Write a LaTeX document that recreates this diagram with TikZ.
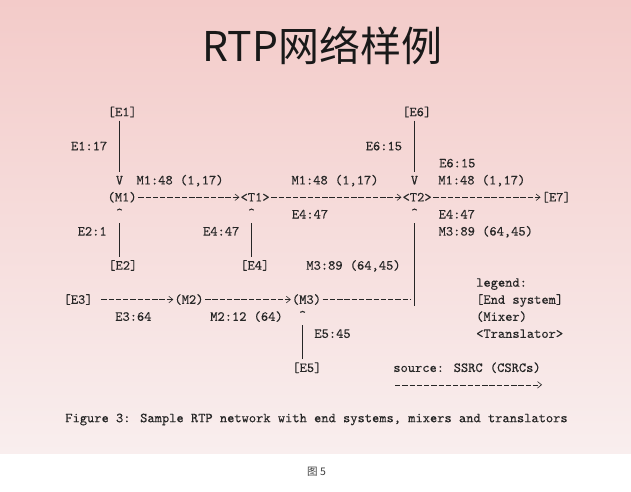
\documentclass[tikz,border=0pt]{standalone}
\usepackage{fontspec}
\newfontfamily\cjk{Noto Sans CJK SC}
\newfontfamily\asciimono{lmmono10-regular.otf}[FakeBold=0.2]
\usetikzlibrary{arrows.meta}
\definecolor{slidetop}{RGB}{243,203,201}
\definecolor{slidemid}{RGB}{246,217,216}
\definecolor{slidebot}{RGB}{249,238,238}
\definecolor{ink}{RGB}{38,38,38}
\begin{document}
\begin{tikzpicture}[x=1pt,y=-1pt,
  txt/.style={font=\asciimono\fontsize{13.8}{14}\selectfont, inner sep=0pt, text height=8.4pt, text depth=0pt, text=ink},
  pipe/.style={draw=ink, line width=0.65pt, shorten <=4.3pt, shorten >=4.3pt},
  flowplain/.style={draw=ink, line width=0.6pt, dash pattern=on 5.4pt off 1.86pt},
  flow/.style={flowplain, shorten <=1.5pt, shorten >=1pt, -{Straight Barb[length=4pt,width=6.5pt,line width=0.6pt]}},
]
\useasboundingbox (0,0) rectangle (631,491);
\fill[white] (0,0) rectangle (631,491);
\shade[top color=slidetop, middle color=slidemid, bottom color=slidebot] (0,0) rectangle (631,453);

\node[font=\cjk\fontsize{41}{41}\selectfont, text=black!90, inner sep=0pt, anchor=base] (title) at (322,61.7) {RTP网络样例};

% row 1
\node[txt] (E1) at (122.3,112) {[E1]};
\node[txt] (E6) at (416.7,112) {[E6]};
% row 3-4
\node[txt] (lE1) at (89.1,146.1) {E1:17};
\node[txt] (lE6a) at (383.9,146.1) {E6:15};
\node[txt] (lE6b) at (457.3,163.15) {E6:15};
% row 5
\node[txt] (vE1) at (119.5,180.2) {V};
\node[txt] (lM1a) at (180,180.2) {M1:48 (1,17)};
\node[txt] (lM1b) at (335,180.2) {M1:48 (1,17)};
\node[txt] (vE6) at (414.5,180.2) {V};
\node[txt] (lM1c) at (481.8,180.2) {M1:48 (1,17)};
% row 6
\node[txt] (M1) at (122.1,197.25) {(M1)};
\node[txt] (T1) at (255.1,197.25) {<T1>};
\node[txt] (T2) at (417.1,197.25) {<T2>};
\node[txt] (E7) at (556.2,197.25) {[E7]};
% row 7
\node[txt] (uM1) at (119.5,213) {\textasciicircum};
\node[txt] (uT1) at (251.5,213) {\textasciicircum};
\node[txt] (lE4a) at (310,214.3) {E4:47};
\node[txt] (uT2) at (414.5,213) {\textasciicircum};
\node[txt] (lE4b) at (456.8,214.3) {E4:47};
% row 8
\node[txt] (lE2) at (92.2,231.35) {E2:1};
\node[txt] (lE4c) at (221.2,231.35) {E4:47};
\node[txt] (lM3a) at (485.8,231.35) {M3:89 (64,45)};
% row 10
\node[txt] (E2) at (122.8,265.45) {[E2]};
\node[txt] (E4) at (254.8,265.45) {[E4]};
\node[txt] (lM3b) at (353.5,265.45) {M3:89 (64,45)};
% row 11-14 legend
\node[txt,anchor=west] (leg) at (476,282.5) {legend:};
\node[txt,anchor=west] (legE) at (476,299.55) {[End system]};
\node[txt,anchor=west] (legM) at (476,316.6) {(Mixer)};
\node[txt,anchor=west] (legT) at (476,333.65) {<Translator>};
% row 12
\node[txt] (E3) at (78.1,299.55) {[E3]};
\node[txt] (M2) at (189,299.55) {(M2)};
\node[txt] (M3) at (306.5,299.55) {(M3)};
% row 13-14
\node[txt] (lE3) at (133.4,316.6) {E3:64};
\node[txt] (lM2) at (246.5,316.6) {M2:12 (64)};
\node[txt] (uM3) at (302.6,315.3) {\textasciicircum};
\node[txt] (lE5) at (332.5,333.65) {E5:45};
% row 16-17
\node[txt] (E5) at (306.9,367.75) {[E5]};
\node[txt] (src) at (467,367.75) {source: SSRC (CSRCs)};
\coordinate (sa) at (395,384.8);
\coordinate (sb) at (542,384.8);
% junction on row 12
\coordinate (jn) at (410,299.55);
\coordinate (jb) at (414.5,305.5);

\node[txt] (cap) at (316.5,418) {Figure 3: Sample RTP network with end systems, mixers and translators};
\node[font=\cjk\fontsize{10.5}{11}\selectfont, text=black!75, inner sep=0pt] (fig) at (316.5,472) {图 5};

% vertical connectors
\draw[pipe] (vE1 |- E1.south) -- (vE1.north);
\draw[pipe] (vE6 |- E6.south) -- (vE6.north);
\draw[pipe, shorten >=5.6pt] (uM1 |- E2.north) -- (uM1.south);
\draw[pipe, shorten >=5.6pt] (uT1 |- E4.north) -- (uT1.south);
\draw[pipe, shorten >=5.6pt] (uM3 |- E5.north) -- (uM3.south);
\draw[pipe, shorten <=0pt, shorten >=5.6pt] (jb) -- (uT2.south);

% horizontal connectors
\draw[flow] (M1) -- (T1);
\draw[flow] (T1) -- (T2);
\draw[flow] (T2) -- (E7);
\draw[flow, shorten <=8.5pt] (E3) -- (M2);
\draw[flow] (M2) -- (M3);
\draw[flowplain, shorten <=1.5pt] (M3) -- (jn);
\draw[flow, shorten <=0pt, shorten >=0pt] (sa) -- (sb);
\end{tikzpicture}
\end{document}
